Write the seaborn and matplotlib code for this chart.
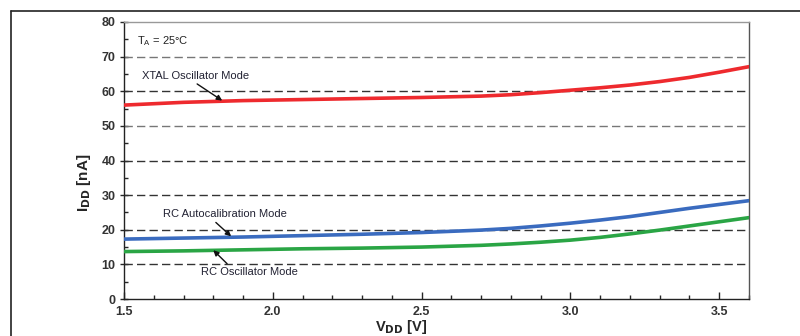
import matplotlib
matplotlib.use("Agg")
import matplotlib.pyplot as plt
import seaborn as sns
import pandas as pd
from matplotlib.lines import Line2D
from matplotlib.ticker import MultipleLocator

vdd = [1.5, 1.7, 1.9, 2.1, 2.3, 2.5, 2.7, 2.8, 2.9, 3.0, 3.1, 3.2, 3.3, 3.4, 3.5, 3.6]
xtal = [56.0, 56.8, 57.3, 57.6, 57.9, 58.2, 58.6, 59.0, 59.6, 60.3, 61.0, 61.8, 62.8, 64.0, 65.5, 67.1]
rc_auto = [17.3, 17.6, 17.9, 18.3, 18.7, 19.2, 19.9, 20.4, 21.1, 21.9, 22.8, 23.8, 25.0, 26.2, 27.3, 28.4]
rc_osc = [13.7, 13.9, 14.2, 14.5, 14.7, 15.0, 15.5, 15.9, 16.4, 17.0, 17.8, 18.8, 19.9, 21.1, 22.3, 23.5]
series_names = ["XTAL Oscillator Mode", "RC Autocalibration Mode", "RC Oscillator Mode"]
series_colors = ["#ee2a2e", "#3a6bbf", "#2aa545"]

df = pd.concat([
    pd.DataFrame({"VDD": vdd, "IDD": vals, "mode": name})
    for name, vals in zip(series_names, [xtal, rc_auto, rc_osc])
])

sns.set_style("white")
plt.rcParams['font.family'] = ['Liberation Sans', 'DejaVu Sans']

fig = plt.figure(figsize=(8, 3.36), dpi=100)
ax = fig.add_axes([124/800, 1-299/336, (749-124)/800, (299-22)/336])

for y in range(10, 80, 10):
    ax.axhline(y, color="#333333" if y not in (50, 70) else "#777777",
               lw=1.0, ls=(0, (6, 3)), zorder=1)

sns.lineplot(data=df, x="VDD", y="IDD", hue="mode", palette=dict(zip(series_names, series_colors)),
             lw=2.6, ax=ax, legend=False, zorder=3)

ax.set_xlim(1.5, 3.6)
ax.set_ylim(0, 80)
ax.xaxis.set_major_locator(MultipleLocator(0.5))
ax.xaxis.set_minor_locator(MultipleLocator(0.1))
ax.yaxis.set_major_locator(MultipleLocator(10))
ax.yaxis.set_minor_locator(MultipleLocator(5))
ax.xaxis.set_major_formatter(matplotlib.ticker.FormatStrFormatter("%.1f"))
ax.tick_params(axis="both", which="major", direction="inout", length=6, width=1, labelsize=9, pad=3)
ax.tick_params(axis="both", which="minor", direction="in", length=3, width=1)
ax.tick_params(axis="x", which="major", direction="in", length=5, pad=5)
ax.tick_params(left=True, bottom=True, which="both")
for lab in ax.get_xticklabels() + ax.get_yticklabels():
    lab.set_fontweight("bold")
    lab.set_color("#333333")
for s in ax.spines.values():
    s.set_color("#222222")
    s.set_linewidth(1.0)
ax.spines["top"].set_color("#999999")
ax.spines["right"].set_color("#555555")

ax.set_xlabel("V$_{\\mathbf{DD}}$ [V]", fontsize=10.5, fontweight="bold")
ax.set_ylabel("I$_{\\mathbf{DD}}$ [nA]", fontsize=11, fontweight="bold")
ax.xaxis.set_label_coords(0.444, -0.068)
ax.xaxis.label.set_va("top")
ax.yaxis.set_label_coords(-0.05, 0.42)

ax.text(1.545, 74.5, "T$_\\mathregular{A}$ = 25°C", fontsize=8, color="#222222", va="center")
ax.annotate("XTAL Oscillator Mode", xy=(1.83, 57.3), xytext=(1.56, 64.5), fontsize=8,
            color="#222233", va="center",
            arrowprops=dict(arrowstyle="-|>", color="#111111", lw=1.0, mutation_scale=8,
                            shrinkA=0, shrinkB=0, relpos=(0.47, 0.0)))
ax.annotate("RC Autocalibration Mode", xy=(1.86, 18.1), xytext=(1.63, 24.5), fontsize=8,
            color="#222233", va="center",
            arrowprops=dict(arrowstyle="-|>", color="#111111", lw=1.0, mutation_scale=8,
                            shrinkA=0, shrinkB=0, relpos=(0.4, 0.0)))
ax.annotate("RC Oscillator Mode", xy=(1.8, 14.1), xytext=(1.76, 7.8), fontsize=8,
            color="#222233", va="center",
            arrowprops=dict(arrowstyle="-|>", color="#111111", lw=1.0, mutation_scale=8,
                            shrinkA=0, shrinkB=0, relpos=(0.3, 1.0)))

fig.add_artist(Line2D([11/800, 1.0], [1-11/336, 1-11/336], transform=fig.transFigure,
                      color="#222222", lw=1.2))
fig.add_artist(Line2D([11/800, 11/800], [0, 1-11/336], transform=fig.transFigure,
                      color="#222222", lw=1.2))

fig.savefig("out.png", dpi=100)
